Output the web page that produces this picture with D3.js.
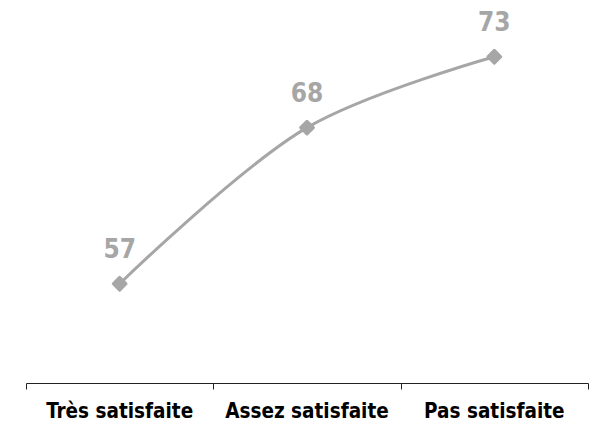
<!DOCTYPE html>
<html><head><meta charset="utf-8">
<script src="https://cdn.jsdelivr.net/npm/d3@7"></script>
<style>
html,body{margin:0;padding:0;background:#fff;}
svg{display:block;}
text{font-family:"DejaVu Sans Condensed","DejaVu Sans",sans-serif;font-stretch:condensed;font-weight:bold;}
</style></head>
<body>
<svg id="chart" width="591" height="422"></svg>
<script>
const categories = ["Très satisfaite", "Assez satisfaite", "Pas satisfaite"];
const values = [57, 68, 73];

const svg = d3.select("#chart");
const x = d3.scaleBand().domain(categories).range([26, 588]).padding(0);
const y = d3.scaleLinear().domain([50, 77]).range([383, 0]);
const cx = d => x(d) + x.bandwidth() / 2;

const data = categories.map((c, i) => ({c, v: values[i]}));

const line = d3.line().x(d => cx(d.c)).y(d => y(d.v)).curve(d3.curveCatmullRom.alpha(0.5));
svg.append("path").datum(data).attr("d", line)
  .attr("fill", "none").attr("stroke", "#a6a6a6").attr("stroke-width", 3);

svg.selectAll("rect.m").data(data).enter().append("rect")
  .attr("class", "m")
  .attr("x", -6).attr("y", -6).attr("width", 12).attr("height", 12).attr("rx", 1.5)
  .attr("fill", "#a6a6a6")
  .attr("transform", d => `translate(${cx(d.c)},${y(d.v)}) rotate(45)`);

svg.selectAll("text.lbl").data(data).enter().append("text")
  .attr("class", "lbl")
  .attr("x", d => cx(d.c)).attr("y", d => y(d.v) - 26)
  .attr("text-anchor", "middle").attr("font-size", 26).attr("fill", "#a6a6a6")
  .text(d => d.v);

const g = svg.append("g").attr("transform", "translate(0,383.5)");
const bounds = [26, ...categories.map(c => x(c) + x.bandwidth())];
g.append("path").attr("d", `M26.5,0H588.5`).attr("stroke", "#222").attr("fill", "none");
g.selectAll("line.b").data(bounds).enter().append("line")
  .attr("class", "b").attr("x1", d => Math.round(d) + 0.5).attr("x2", d => Math.round(d) + 0.5)
  .attr("y1", 0).attr("y2", 6).attr("stroke", "#222");

svg.selectAll("text.cat").data(categories).enter().append("text")
  .attr("class", "cat")
  .attr("x", d => cx(d)).attr("y", 418)
  .attr("text-anchor", "middle").attr("font-size", 20.5).attr("fill", "#000")
  .text(d => d);
</script>
</body></html>
